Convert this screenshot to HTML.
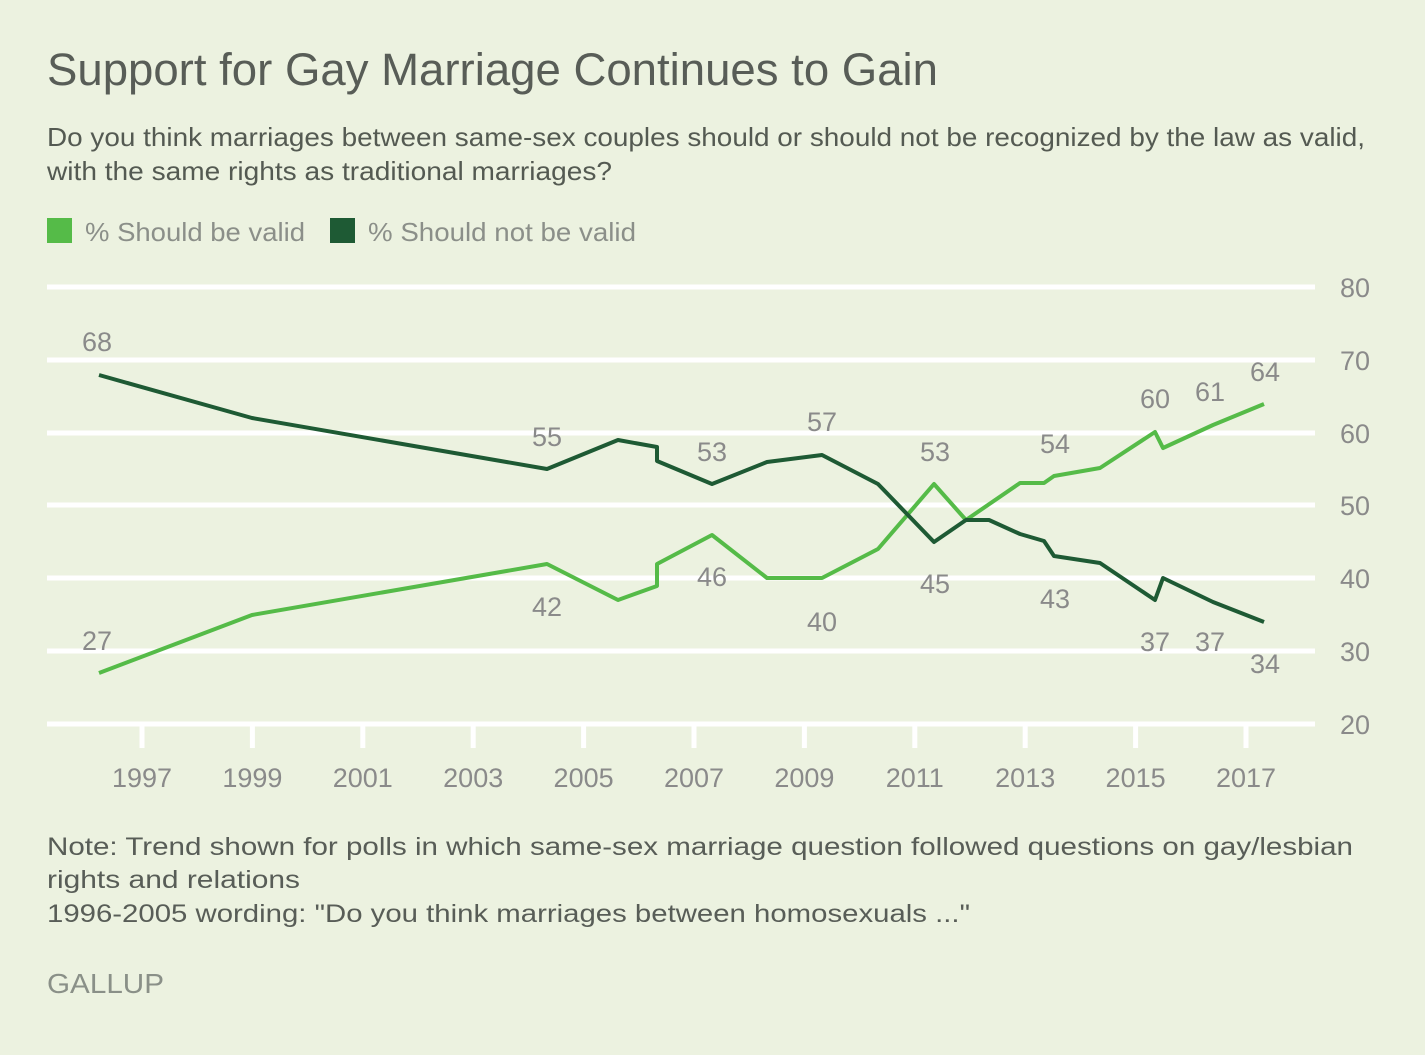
<!DOCTYPE html>
<html>
<head>
<meta charset="utf-8">
<style>
html,body{margin:0;padding:0;background:#ecf2e0;}
svg{display:block;}
text{font-family:"Liberation Sans",sans-serif;}
</style>
</head>
<body>
<svg width="1425" height="1055" viewBox="0 0 1425 1055" xmlns="http://www.w3.org/2000/svg">
<rect x="0" y="0" width="1425" height="1055" fill="#ecf2e0"/>

<text x="47" y="85" font-size="45" fill="#585d57" textLength="891" lengthAdjust="spacingAndGlyphs">Support for Gay Marriage Continues to Gain</text>
<text x="47" y="146" font-size="26" fill="#545a52" textLength="1318" lengthAdjust="spacingAndGlyphs">Do you think marriages between same-sex couples should or should not be recognized by the law as valid,</text>
<text x="47" y="180" font-size="26" fill="#545a52" textLength="565" lengthAdjust="spacingAndGlyphs">with the same rights as traditional marriages?</text>

<rect x="47" y="218" width="25" height="25" fill="#55bb48"/>
<text x="85" y="241" font-size="26" fill="#8b8f89" textLength="220" lengthAdjust="spacingAndGlyphs">% Should be valid</text>
<rect x="330" y="218" width="25" height="25" fill="#1e5a34"/>
<text x="368" y="241" font-size="26" fill="#8b8f89" textLength="268" lengthAdjust="spacingAndGlyphs">% Should not be valid</text>

<g stroke="#ffffff" stroke-width="5">
<line x1="47" y1="287" x2="1315" y2="287"/>
<line x1="47" y1="360" x2="1315" y2="360"/>
<line x1="47" y1="433" x2="1315" y2="433"/>
<line x1="47" y1="505" x2="1315" y2="505"/>
<line x1="47" y1="578" x2="1315" y2="578"/>
<line x1="47" y1="651" x2="1315" y2="651"/>
<line x1="47" y1="724" x2="1315" y2="724"/>
<line x1="142" y1="724" x2="142" y2="748"/>
<line x1="252.4" y1="724" x2="252.4" y2="748"/>
<line x1="362.8" y1="724" x2="362.8" y2="748"/>
<line x1="473.2" y1="724" x2="473.2" y2="748"/>
<line x1="583.6" y1="724" x2="583.6" y2="748"/>
<line x1="694" y1="724" x2="694" y2="748"/>
<line x1="804.4" y1="724" x2="804.4" y2="748"/>
<line x1="914.8" y1="724" x2="914.8" y2="748"/>
<line x1="1025.2" y1="724" x2="1025.2" y2="748"/>
<line x1="1135.6" y1="724" x2="1135.6" y2="748"/>
<line x1="1246" y1="724" x2="1246" y2="748"/>
</g>

<g font-size="27" fill="#8a8a8a">
<text x="1340" y="297">80</text>
<text x="1340" y="370">70</text>
<text x="1340" y="443">60</text>
<text x="1340" y="515">50</text>
<text x="1340" y="588">40</text>
<text x="1340" y="661">30</text>
<text x="1340" y="734">20</text>
</g>

<g font-size="27" fill="#8a8a8a" text-anchor="middle">
<text x="142" y="787">1997</text>
<text x="252.4" y="787">1999</text>
<text x="362.8" y="787">2001</text>
<text x="473.2" y="787">2003</text>
<text x="583.6" y="787">2005</text>
<text x="694" y="787">2007</text>
<text x="804.4" y="787">2009</text>
<text x="914.8" y="787">2011</text>
<text x="1025.2" y="787">2013</text>
<text x="1135.6" y="787">2015</text>
<text x="1246" y="787">2017</text>
</g>

<path d="M99,673 L252,615 L547,564 L618,600 L657,586 L657,564 L712,535 L767,578 L822,578 L878,549 L934,484 L966,520 L1020,483 L1044,483 L1054,476 L1100,468 L1155,432 L1163,448 L1213,425 L1264,404" fill="none" stroke="#55bb48" stroke-width="4" stroke-linejoin="round"/>
<path d="M99,375 L252,418 L547,469 L618,440 L657,447 L657,461 L712,484 L767,462 L822,455 L878,484 L934,542 L966,520 L989,520 L1020,534 L1044,541 L1054,556 L1100,563 L1155,600 L1163,578 L1213,602 L1264,622" fill="none" stroke="#1e5a34" stroke-width="4" stroke-linejoin="round"/>

<g font-size="27" fill="#8a8a8a" text-anchor="middle">
<text x="97" y="351">68</text>
<text x="97" y="650">27</text>
<text x="547" y="446">55</text>
<text x="547" y="616">42</text>
<text x="712" y="461">53</text>
<text x="712" y="586">46</text>
<text x="822" y="431">57</text>
<text x="822" y="631">40</text>
<text x="935" y="461">53</text>
<text x="935" y="593">45</text>
<text x="1055" y="453">54</text>
<text x="1055" y="608">43</text>
<text x="1155" y="408">60</text>
<text x="1155" y="651">37</text>
<text x="1210" y="401">61</text>
<text x="1210" y="651">37</text>
<text x="1265" y="381">64</text>
<text x="1265" y="673">34</text>
</g>

<text x="47" y="855" font-size="25" fill="#585d57" textLength="1306" lengthAdjust="spacingAndGlyphs">Note: Trend shown for polls in which same-sex marriage question followed questions on gay/lesbian</text>
<text x="47" y="888" font-size="25" fill="#585d57" textLength="253" lengthAdjust="spacingAndGlyphs">rights and relations</text>
<text x="47" y="922" font-size="25" fill="#585d57" textLength="923" lengthAdjust="spacingAndGlyphs">1996-2005 wording: "Do you think marriages between homosexuals ..."</text>

<text x="47" y="993" font-size="28" fill="#8a9088" textLength="117" lengthAdjust="spacingAndGlyphs">GALLUP</text>
</svg>
</body>
</html>
